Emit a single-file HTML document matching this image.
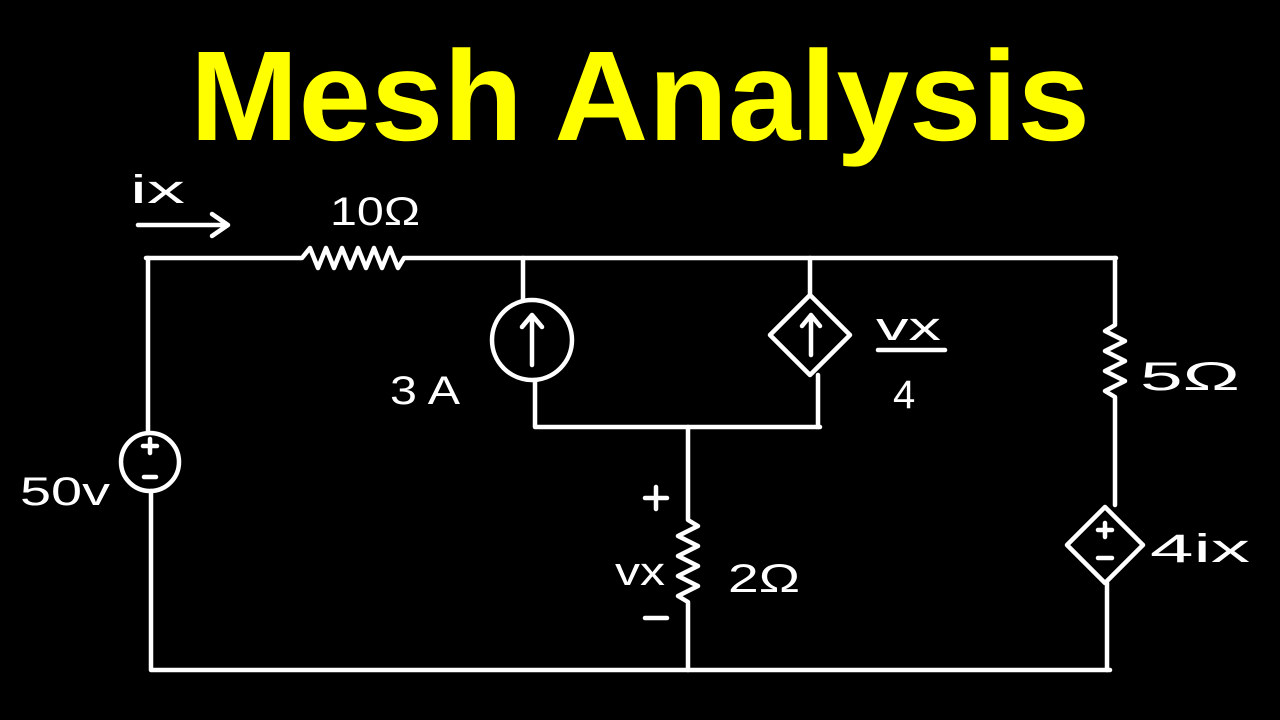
<!DOCTYPE html>
<html><head><meta charset="utf-8"><style>
html,body{margin:0;padding:0;background:#000;width:1280px;height:720px;overflow:hidden}
svg{display:block}
text{font-family:"Liberation Sans",sans-serif;fill:#fff}
</style></head><body>
<svg width="1280" height="720" viewBox="0 0 1280 720">
<rect width="1280" height="720" fill="#000"/>
<text x="640" y="140" text-anchor="middle" font-size="128" font-weight="bold" style="fill:#ffff00" textLength="900" lengthAdjust="spacingAndGlyphs">Mesh  Analysis</text>
<g stroke="#fff" stroke-width="4.5" fill="none" stroke-linecap="round" stroke-linejoin="round">
<path d="M146 258 H302 l8 -10 l8 20 l8 -20 l8 20 l8 -20 l8 20 l8 -20 l8 20 l8 -20 l8 20 l8 -20 l8 20 l6 -10 H1116"/>
<path d="M148 258 V433"/>
<circle cx="150" cy="462" r="29"/>
<path d="M151 491 V670 H1110"/>
<path d="M1115 258 V325 l-10 6 l20 10 l-20 10 l20 10 l-20 10 l20 10 l-20 10 l10 6 V505"/>
<path d="M1105 507 L1143 545 L1105 583 L1067 545 Z"/>
<path d="M1107 583 V670"/>
<path d="M523 258 V300"/>
<circle cx="532" cy="340" r="40"/>
<path d="M532 365 V315 M522 327 L532 315 L542 327"/>
<path d="M535 380 V427 H820"/>
<path d="M810 258 V295"/>
<path d="M810 295 L850 335 L810 375 L770 335 Z"/>
<path d="M811 355 V315 M802 326 L811 315 L820 326"/>
<path d="M818 375 V427"/>
<path d="M688 427 V520 l10 6 l-20 10 l20 10 l-20 10 l20 10 l-20 10 l20 10 l-20 10 l10 6 V670"/>
<path d="M143 446 H157 M150 439 V453 M144 477 H156"/>
<path d="M1098 530 H1112 M1105 523 V537 M1098 558 H1112"/>
<path d="M138 225 H228 M212 214 L228 225 L212 236"/>
<path d="M878 350 H945"/>
<path d="M645 498 H667 M656 487 V509 M645 618 H667"/>
</g>
<g font-size="40">
<text x="130" y="203" textLength="55" lengthAdjust="spacingAndGlyphs">ix</text>
<text x="330" y="225" textLength="90" lengthAdjust="spacingAndGlyphs">10Ω</text>
<text x="390" y="404" textLength="70" lengthAdjust="spacingAndGlyphs">3 A</text>
<text x="876" y="340" textLength="65" lengthAdjust="spacingAndGlyphs">vx</text>
<text x="893" y="408">4</text>
<text x="1140" y="390" textLength="100" lengthAdjust="spacingAndGlyphs">5Ω</text>
<text x="1150" y="562" textLength="100" lengthAdjust="spacingAndGlyphs">4ix</text>
<text x="20" y="505" textLength="90" lengthAdjust="spacingAndGlyphs">50v</text>
<text x="615" y="585" textLength="50" lengthAdjust="spacingAndGlyphs">vx</text>
<text x="728" y="592" textLength="72" lengthAdjust="spacingAndGlyphs">2Ω</text>
</g>
</svg>
</body></html>
